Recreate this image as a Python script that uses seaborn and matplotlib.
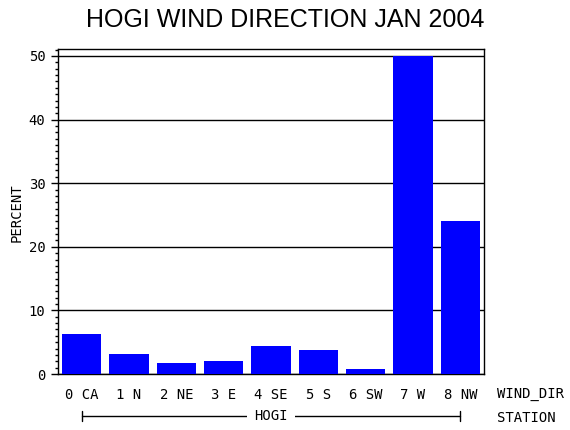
import matplotlib
matplotlib.use("Agg")
import matplotlib.pyplot as plt
import matplotlib.transforms as mtransforms
from matplotlib.ticker import MultipleLocator
import seaborn as sns
import pandas as pd

categories = ["0 CA", "1 N", "2 NE", "3 E", "4 SE", "5 S", "6 SW", "7 W", "8 NW"]
percent = [6.3, 3.1, 1.7, 2.0, 4.4, 3.8, 0.8, 50.0, 24.0]
yticks = [0, 10, 20, 30, 40, 50]
title = "HOGI WIND DIRECTION JAN 2004"
station = "HOGI"

sns.set_theme(style="white")
plt.rcParams['font.family'] = ['DejaVu Sans Mono']

df = pd.DataFrame({"dir": categories, "pct": percent})

fig = plt.figure(figsize=(5.7, 4.3), dpi=100)
ax = fig.add_axes([58/570, 1-374/430, (484-58)/570, (374-49)/430])

sns.barplot(data=df, x="dir", y="pct", color="#0000FF", saturation=1,
            width=0.83, ax=ax, zorder=3)
for p in ax.patches:
    p.set_edgecolor("none")

ax.set_ylim(0, 51.1)
ax.set_xlim(-0.5, len(categories) - 0.5)
ax.set_yticks(yticks)
ax.yaxis.set_minor_locator(MultipleLocator(1))
ax.grid(axis="y", color="black", linewidth=1.0, zorder=1)
ax.set_axisbelow(True)
for s in ax.spines.values():
    s.set_visible(True)
    s.set_color("black")
    s.set_linewidth(1.0)

fs = 10
ax.tick_params(axis="y", which="major", left=True, length=5, width=1, color="black",
               labelsize=fs, pad=4, labelcolor="black")
ax.tick_params(axis="y", which="minor", left=True, length=2.5, width=1, color="black")
ax.tick_params(axis="x", bottom=False, labelsize=fs, labelcolor="black")
ax.set_xlabel("")
ax.set_ylabel("")
for lbl in ax.get_xticklabels():
    lbl.set_va("center")
ax.tick_params(axis="x", pad=9)

fig.text(17/570, 1-213/430, "PERCENT", ha="center", va="center", rotation=90,
         fontsize=fs, color="black")

fig.text(0.5, 1-20/430, title, ha="center", va="center", fontsize=18,
         family="Liberation Sans", color="black")

# right-side labels
fig.text(497/570, 1-394/430, "WIND_DIR", ha="left", va="center", fontsize=fs, color="black")
fig.text(497/570, 1-418/430, "STATION", ha="left", va="center", fontsize=fs, color="black")

# station bracket
trans = mtransforms.blended_transform_factory(ax.transData, ax.transAxes)
yb = (374-416)/325
ax.plot([0, len(categories)-1], [yb, yb], color="black", lw=1, transform=trans, clip_on=False)
for xe in [0, len(categories)-1]:
    ax.plot([xe, xe], [yb-0.014, yb+0.014], color="black", lw=1, transform=trans, clip_on=False)
ax.text((len(categories)-1)/2, yb, station, transform=trans, ha="center", va="center",
        fontsize=fs, color="black",
        bbox=dict(facecolor="white", edgecolor="none", pad=5))

fig.savefig("out.png", dpi=100, facecolor="white")
